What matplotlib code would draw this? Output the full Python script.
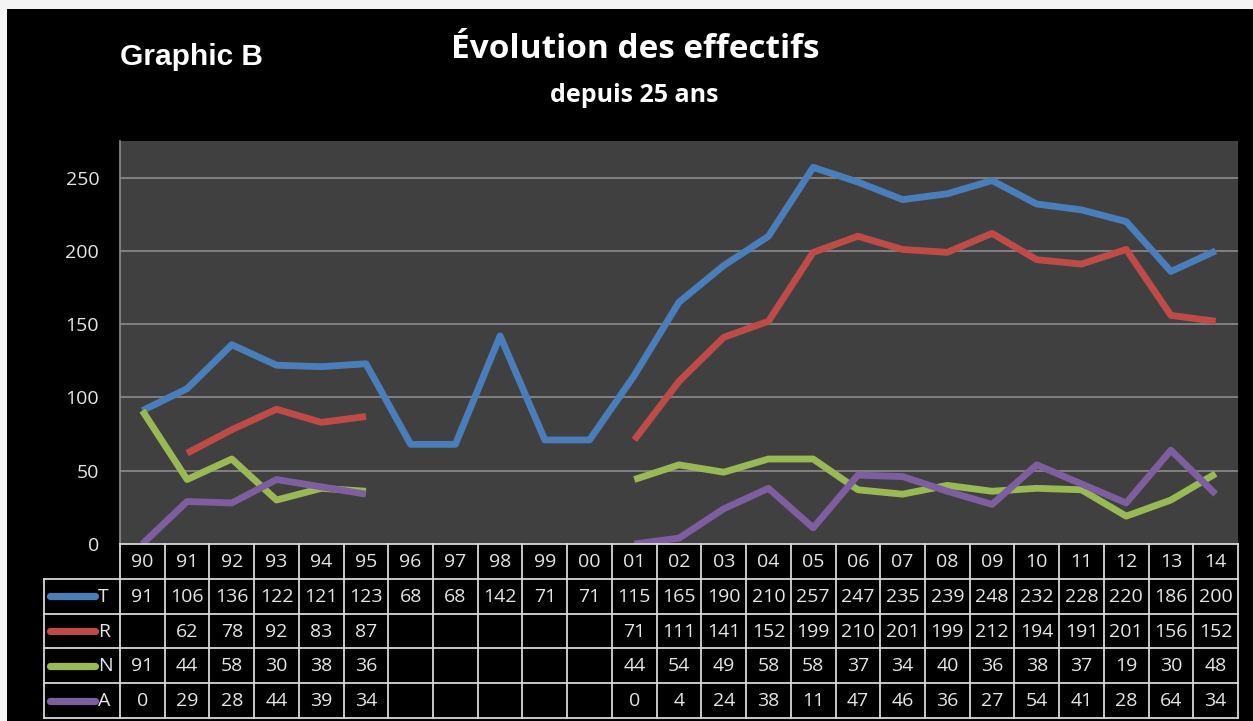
import matplotlib
matplotlib.use("Agg")
import matplotlib.pyplot as plt
import numpy as np
from matplotlib.patches import Rectangle

years = ["90", "91", "92", "93", "94", "95", "96", "97", "98", "99", "00",
         "01", "02", "03", "04", "05", "06", "07", "08", "09", "10", "11", "12", "13", "14"]
series_names = ["T", "R", "N", "A"]
T = [91, 106, 136, 122, 121, 123, 68, 68, 142, 71, 71,
     115, 165, 190, 210, 257, 247, 235, 239, 248, 232, 228, 220, 186, 200]
R = [None, 62, 78, 92, 83, 87, None, None, None, None, None,
     71, 111, 141, 152, 199, 210, 201, 199, 212, 194, 191, 201, 156, 152]
N = [91, 44, 58, 30, 38, 36, None, None, None, None, None,
     44, 54, 49, 58, 58, 37, 34, 40, 36, 38, 37, 19, 30, 48]
A = [0, 29, 28, 44, 39, 34, None, None, None, None, None,
     0, 4, 24, 38, 11, 47, 46, 36, 27, 54, 41, 28, 64, 34]
colors = ["#4A7EBB", "#BE4B48", "#98B954", "#7D5FA0"]
yticks = [0, 50, 100, 150, 200, 250]

W, H = 1253, 721
fig = plt.figure(figsize=(W / 100, H / 100), dpi=100, facecolor="black")

# white frame at top/left
fig.patches.append(Rectangle((0, 0), 1, 1, transform=fig.transFigure,
                             facecolor="#f4f4f4", edgecolor="none", zorder=-10))
fig.patches.append(Rectangle((7 / W, 0), 1 - 7 / W, 1 - 9 / H, transform=fig.transFigure,
                             facecolor="black", edgecolor="none", zorder=-9))

FONT = ["Open Sans", "DejaVu Sans"]
txtc = "#e6e6e6"
FS = 14

px_l, px_r, px_t, px_b = 120, 1238, 141, 544
ax = fig.add_axes([px_l / W, 1 - px_b / H, (px_r - px_l) / W, (px_b - px_t) / H])
ax.set_facecolor("#404040")
n = len(years)
x = np.arange(n)
for vals, c in zip([T, R, N, A], colors):
    y = np.array([np.nan if v is None else v for v in vals], dtype=float)
    ax.plot(x, y, color=c, lw=4.9, solid_joinstyle="round", solid_capstyle="butt", zorder=3)
ax.set_xlim(-0.5, n - 0.5)
ax.set_ylim(0, 275)
ax.set_yticks(yticks)
for t in yticks[1:]:
    ax.axhline(t, color="#8c8c8c", lw=1.2, zorder=1)
ax.set_xticks([])
ax.tick_params(axis="y", length=0, pad=15, labelsize=FS, labelcolor=txtc)
for lab in ax.get_yticklabels():
    lab.set_fontfamily(FONT)
for s in ["top", "right", "bottom"]:
    ax.spines[s].set_visible(False)
ax.spines["left"].set_color("#8c8c8c")
ax.spines["left"].set_linewidth(1.2)

# data table axes
tl, tr, tt, tb = 44, 1238, 544, 718
tax = fig.add_axes([tl / W, 1 - tb / H, (tr - tl) / W, (tb - tt) / H])
tax.set_facecolor("black")
colw = (px_r - px_l) / n
leg_w = (px_l - tl) / colw
x0 = -0.5 - leg_w
tax.set_xlim(x0, n - 0.5)
tax.set_ylim(5, 0)
tax.axis("off")
lc = "#d8d8d8"
lw = 1.3
tax.plot([-0.5, n - 0.5], [0, 0], color=lc, lw=lw, clip_on=False)
for r in range(1, 6):
    tax.plot([x0, n - 0.5], [r, r], color=lc, lw=lw, clip_on=False)
for ci in range(n + 1):
    tax.plot([ci - 0.5, ci - 0.5], [0, 5], color=lc, lw=lw, clip_on=False)
tax.plot([x0, x0], [1, 5], color=lc, lw=lw, clip_on=False)

for ci, yr in enumerate(years):
    tax.text(ci, 0.52, yr, ha="center", va="center", color=txtc, fontsize=FS, family=FONT)
for ri, (name, vals, c) in enumerate(zip(series_names, [T, R, N, A], colors)):
    yy = ri + 1.52
    tax.plot([x0 + 6 / colw, x0 + 51 / colw], [ri + 1.5, ri + 1.5], color=c, lw=5.2,
             solid_capstyle="round", clip_on=False)
    tax.text(x0 + 54 / colw, yy, name, ha="left", va="center", color=txtc, fontsize=FS, family=FONT)
    for ci, v in enumerate(vals):
        if v is not None:
            tax.text(ci, yy, str(v), ha="center", va="center", color=txtc, fontsize=FS, family=FONT)

fig.text(120 / W, 1 - 57 / H, "Graphic B", ha="left", va="center", color="white",
         fontsize=21.5, fontweight="bold", family=["Liberation Sans", "DejaVu Sans"])
fig.text(635 / W, 1 - 50 / H, "Évolution des effectifs", ha="center", va="center", color="white",
         fontsize=24, fontweight="bold", family=FONT)
fig.text(634 / W, 1 - 96 / H, "depuis 25 ans", ha="center", va="center", color="white",
         fontsize=18, fontweight="bold", family=FONT)

fig.savefig("out.png", dpi=100, facecolor="black")
